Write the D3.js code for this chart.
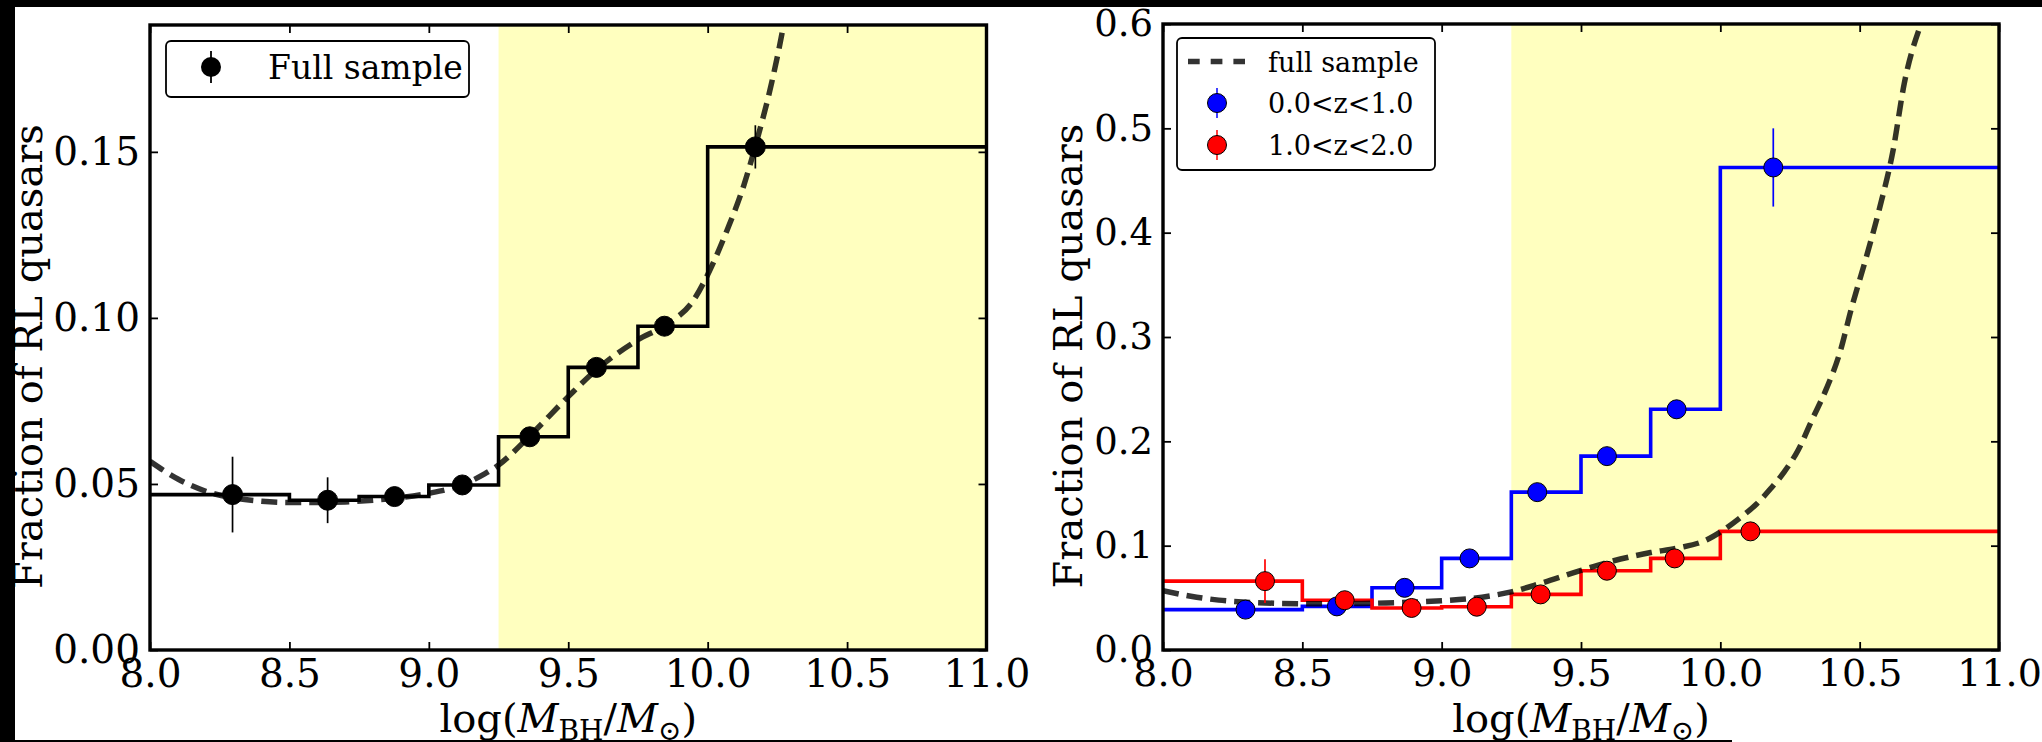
<!DOCTYPE html>
<html>
<head>
<meta charset="utf-8">
<script src="https://cdn.jsdelivr.net/npm/d3@7"></script>
<style>
  body { margin: 0; background: #fff; }
  svg { display: block; }
  text { font-family: "DejaVu Serif", serif; fill: #000; }
</style>
</head>
<body>
<svg id="fig" width="2042" height="742"></svg>
<script>
// Black-hole mass bins, log(M_BH / M_sun)
const binEdges = [8.0, 8.5, 8.75, 9.0, 9.25, 9.5, 9.75, 10.0, 11.0];
// Start of the shaded high-mass regime
const highMassFrom = 9.25;

// Full sample: median mass per bin, RL fraction, 1-sigma error
const fullMass = [8.296, 8.637, 8.877, 9.120, 9.362, 9.601, 9.845, 10.171];
const fullFrac = [0.0468, 0.0451, 0.0462, 0.0497, 0.0642, 0.0851, 0.0975, 0.1515];
const fullErr  = [0.0114, 0.0069, 0.0027, 0.0024, 0.0025, 0.0027, 0.0028, 0.0065];

// 0.0 < z < 1.0
const lowzMass = [8.296, 8.624, 8.867, 9.100, 9.343, 9.593, 9.843, 10.190];
const lowzFrac = [0.0387, 0.0418, 0.0596, 0.0878, 0.1513, 0.1858, 0.2307, 0.4625];
const lowzErr  = [0.0045, 0.0050, 0.0060, 0.0070, 0.0080, 0.0085, 0.0090, 0.0375];

// 1.0 < z < 2.0
const highzMass = [8.366, 8.652, 8.892, 9.126, 9.355, 9.593, 9.836, 10.108];
const highzFrac = [0.0660, 0.0477, 0.0403, 0.0415, 0.0533, 0.0760, 0.0878, 0.1137];
const highzErr  = [0.0210, 0.0060, 0.0040, 0.0040, 0.0045, 0.0050, 0.0060, 0.0080];

// Fitted relation for the full sample
const fitMass = [8.00, 8.10, 8.20, 8.30, 8.40, 8.50, 8.60, 8.70, 8.80, 8.90, 9.00, 9.10,
                 9.20, 9.25, 9.36, 9.50, 9.60, 9.75, 9.85, 9.95, 10.00, 10.07, 10.13,
                 10.18, 10.23, 10.28, 10.33, 10.38, 10.43, 10.47, 10.52, 10.57, 10.62,
                 10.66, 10.72];
const fitFrac = [0.0568, 0.0515, 0.0478, 0.0458, 0.0448, 0.0444, 0.0444, 0.0446, 0.0451,
                 0.0459, 0.0472, 0.0492, 0.0530, 0.0557, 0.0643, 0.0763, 0.0843, 0.0934,
                 0.0979, 0.1054, 0.1130, 0.1265, 0.1400, 0.1545, 0.1710, 0.1920, 0.2212,
                 0.2500, 0.2860, 0.3270, 0.3730, 0.4220, 0.4790, 0.5430, 0.6000];

// Axis ticks
const massTicks = [8.0, 8.5, 9.0, 9.5, 10.0, 10.5, 11.0];
const fracTicksA = [0.00, 0.05, 0.10, 0.15];
const fracTicksB = [0.0, 0.1, 0.2, 0.3, 0.4, 0.5, 0.6];

const svg = d3.select("#fig");
svg.append("rect").attr("width", 2042).attr("height", 742).attr("fill", "#fff");

function points(xs, ys, es) {
  return xs.map((x, i) => ({ x, y: ys[i], e: es[i] }));
}
function steps(vals) {
  // step outline across the bins; last value repeated for the closing edge
  return binEdges.map((x, i) => ({ x, y: vals[Math.min(i, vals.length - 1)] }));
}

function panel(cfg) {
  const W = cfg.w, H = cfg.h;
  const g = svg.append("g").attr("transform", `translate(${cfg.x},${cfg.y})`);
  const x = d3.scaleLinear().domain([8, 11]).range([0, W]);
  const y = d3.scaleLinear().domain([0, cfg.ymax]).range([H, 0]);

  const clipId = "clip" + cfg.id;
  g.append("clipPath").attr("id", clipId)
    .append("rect").attr("width", W).attr("height", H);
  const plot = g.append("g").attr("clip-path", `url(#${clipId})`);

  // shaded high-mass regime
  plot.append("rect")
    .attr("x", x(highMassFrom)).attr("y", 0)
    .attr("width", x(11) - x(highMassFrom)).attr("height", H)
    .attr("fill", "#ffffbf");

  const stepLine = d3.line().x(d => x(d.x)).y(d => y(d.y)).curve(d3.curveStepAfter);
  cfg.series.forEach(s => {
    plot.append("path").datum(steps(s.vals))
      .attr("d", stepLine).attr("fill", "none")
      .attr("stroke", s.color).attr("stroke-width", s.lw);
  });

  // fitted relation (dashed)
  const fitLine = d3.line().x(d => x(d.x)).y(d => y(d.y)).curve(d3.curveMonotoneX);
  plot.append("path")
    .datum(fitMass.map((m, i) => ({ x: m, y: fitFrac[i] })))
    .attr("d", fitLine).attr("fill", "none")
    .attr("stroke", "#000").attr("stroke-opacity", 0.8)
    .attr("stroke-width", 5.5).attr("stroke-dasharray", "16,8");

  // data points with error bars
  cfg.series.forEach(s => {
    const pts = points(s.mass, s.vals, s.err);
    const pg = plot.append("g");
    pg.selectAll("line").data(pts).join("line")
      .attr("x1", d => x(d.x)).attr("x2", d => x(d.x))
      .attr("y1", d => y(d.y - d.e)).attr("y2", d => y(d.y + d.e))
      .attr("stroke", s.color).attr("stroke-width", 1.7);
    pg.selectAll("circle").data(pts).join("circle")
      .attr("cx", d => x(d.x)).attr("cy", d => y(d.y)).attr("r", s.r)
      .attr("fill", s.color).attr("stroke", "#000").attr("stroke-width", 1);
  });

  // axes with inward ticks on all four sides
  const bottom = g.append("g").attr("transform", `translate(0,${H})`)
    .call(d3.axisBottom(x).tickValues(massTicks).tickFormat(d3.format(".1f"))
      .tickSizeInner(-8).tickSizeOuter(0).tickPadding(9));
  const left = g.append("g")
    .call(d3.axisLeft(y).tickValues(cfg.yticks).tickFormat(d3.format(cfg.yfmt))
      .tickSizeInner(-8).tickSizeOuter(0).tickPadding(10));
  const top = g.append("g")
    .call(d3.axisTop(x).tickValues(massTicks).tickFormat("").tickSizeInner(-8).tickSizeOuter(0));
  const right = g.append("g").attr("transform", `translate(${W},0)`)
    .call(d3.axisRight(y).tickValues(cfg.yticks).tickFormat("").tickSizeInner(-8).tickSizeOuter(0));
  [bottom, left, top, right].forEach(a => {
    a.select(".domain").remove();
    a.selectAll(".tick line").attr("stroke", "#000").attr("stroke-width", 1.8);
    a.selectAll("text").attr("font-family", "DejaVu Serif").attr("fill", "#000");
  });
  bottom.selectAll("text").attr("font-size", cfg.fsX);
  left.selectAll("text").attr("font-size", cfg.fsY);

  // frame
  g.append("rect").attr("width", W).attr("height", H)
    .attr("fill", "none").attr("stroke", "#000").attr("stroke-width", 3.4);

  // axis titles
  g.append("text")
    .attr("transform", `translate(${cfg.ylabX},${H / 2 + cfg.ylabDy}) rotate(-90)`)
    .attr("text-anchor", "middle").attr("font-size", 40)
    .text("Fraction of RL quasars");

  const fl = 40;
  const xl = g.append("text").attr("x", W / 2).attr("y", H + 82)
    .attr("text-anchor", "middle").attr("font-size", fl);
  xl.append("tspan").text("log(");
  xl.append("tspan").attr("font-style", "italic").text("M");
  xl.append("tspan").attr("font-size", fl * 0.7).attr("dy", 8).text("BH");
  xl.append("tspan").attr("dy", -8).text("/");
  xl.append("tspan").attr("font-style", "italic").text("M");
  xl.append("tspan").attr("font-size", fl * 0.7).attr("dy", 8).text("\u2299");
  xl.append("tspan").attr("dy", -8).text(")");

  return { g, x, y };
}

// Left: full sample
const A = panel({
  id: "A", x: 150, y: 25, w: 836.5, h: 625, ymax: 0.1882,
  yticks: fracTicksA, yfmt: ".2f", fsX: 39, fsY: 39, ylabX: -108, ylabDy: 19,
  series: [{ vals: fullFrac, mass: fullMass, err: fullErr, color: "#000", lw: 3.6, r: 10 }]
});

// Right: split by redshift
const B = panel({
  id: "B", x: 1163, y: 24, w: 836, h: 626, ymax: 0.6,
  yticks: fracTicksB, yfmt: ".1f", fsX: 38, fsY: 37, ylabX: -81, ylabDy: 19,
  series: [
    { vals: lowzFrac, mass: lowzMass, err: lowzErr, color: "#0000ff", lw: 3.6, r: 9.5 },
    { vals: highzFrac, mass: highzMass, err: highzErr, color: "#ff0000", lw: 3.6, r: 9.5 }
  ]
});

// Legend, left panel
(function () {
  const lg = A.g.append("g").attr("transform", "translate(16,16)");
  lg.append("rect").attr("width", 303).attr("height", 56).attr("rx", 5)
    .attr("fill", "#fff").attr("stroke", "#000").attr("stroke-width", 1.8);
  lg.append("line").attr("x1", 45).attr("x2", 45).attr("y1", 10).attr("y2", 42)
    .attr("stroke", "#000").attr("stroke-width", 1.8);
  lg.append("circle").attr("cx", 45).attr("cy", 26).attr("r", 10).attr("fill", "#000");
  lg.append("text").attr("x", 102).attr("y", 38).attr("font-size", 33).text("Full sample");
})();

// Legend, right panel
(function () {
  const lg = B.g.append("g").attr("transform", "translate(14,14)");
  lg.append("rect").attr("width", 258).attr("height", 132).attr("rx", 5)
    .attr("fill", "#fff").attr("stroke", "#000").attr("stroke-width", 1.8);
  lg.append("line").attr("x1", 11).attr("x2", 68).attr("y1", 23.5).attr("y2", 23.5)
    .attr("stroke", "#000").attr("stroke-opacity", 0.8).attr("stroke-width", 5.5)
    .attr("stroke-dasharray", "11.7,11");
  lg.append("text").attr("x", 91).attr("y", 33.5).attr("font-size", 27).text("full sample");
  const rows = [
    { color: "#0000ff", label: "0.0<z<1.0", cy: 65 },
    { color: "#ff0000", label: "1.0<z<2.0", cy: 107 }
  ];
  rows.forEach(r => {
    lg.append("line").attr("x1", 40).attr("x2", 40).attr("y1", r.cy - 15).attr("y2", r.cy + 15)
      .attr("stroke", r.color).attr("stroke-width", 1.5);
    lg.append("circle").attr("cx", 40).attr("cy", r.cy).attr("r", 9.5)
      .attr("fill", r.color).attr("stroke", "#000").attr("stroke-width", 1);
    lg.append("text").attr("x", 91).attr("y", r.cy + 9.5).attr("font-size", 27).text(r.label);
  });
})();

// outer border of the figure
svg.append("rect").attr("x", 0).attr("y", 0).attr("width", 2042).attr("height", 7).attr("fill", "#000");
svg.append("rect").attr("x", 0).attr("y", 0).attr("width", 15).attr("height", 742).attr("fill", "#000");
svg.append("rect").attr("x", 0).attr("y", 740).attr("width", 1732).attr("height", 2).attr("fill", "#000");
</script>
</body>
</html>
